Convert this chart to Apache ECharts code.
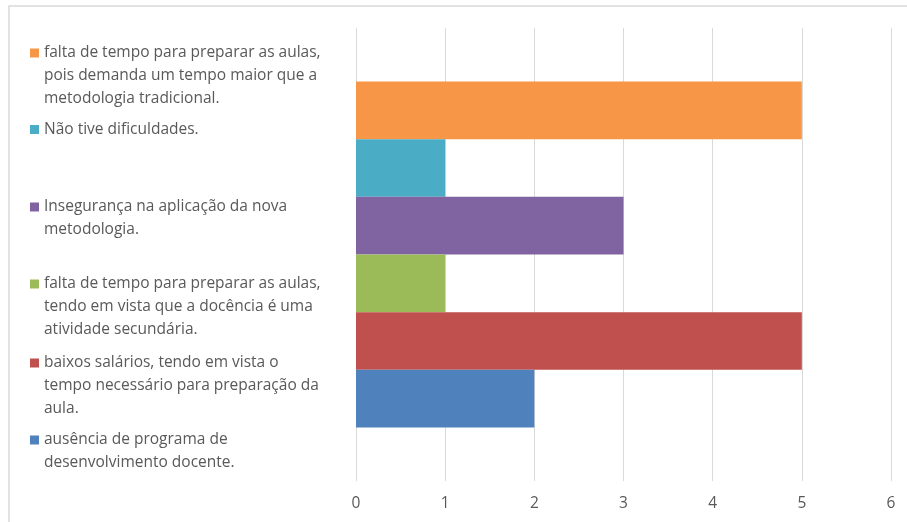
<!DOCTYPE html>
<html>
<head>
<meta charset="utf-8">
<script src="https://cdn.jsdelivr.net/npm/echarts@6/dist/echarts.min.js"></script>
<style>html,body{margin:0;padding:0;background:#fff}#c{width:907px;height:522px}</style>
</head>
<body>
<div id="c"></div>
<script>
// ---- data (top to bottom) ----
const seriesNames = [
  "falta de tempo para preparar as aulas, pois demanda um tempo maior que a metodologia tradicional.",
  "Não tive dificuldades.",
  "Insegurança na aplicação da nova metodologia.",
  "falta de tempo para preparar as aulas, tendo em vista que a docência é uma atividade secundária.",
  "baixos salários, tendo em vista o tempo necessário para preparação da aula.",
  "ausência de programa de desenvolvimento docente."
];
const legendLines = [
  ["falta de tempo para preparar as aulas,", "pois demanda um tempo maior que a", "metodologia tradicional."],
  ["Não tive dificuldades."],
  ["Insegurança na aplicação da nova", "metodologia."],
  ["falta de tempo para preparar as aulas,", "tendo em vista que a docência é uma", "atividade secundária."],
  ["baixos salários, tendo em vista o", "tempo necessário para preparação da", "aula."],
  ["ausência de programa de", "desenvolvimento docente."]
];
const values = [5, 1, 3, 1, 5, 2];
const colors = ["#f79646", "#4bacc6", "#8064a2", "#9bbb59", "#c0504d", "#4f81bd"];
const xTicks = [0, 1, 2, 3, 4, 5, 6];
const categories = [""];

// legend marker centre positions (layout)
const legendCenters = [51.5, 128, 205.5, 282.5, 361.5, 438.5];

const LH = 23;
const FONT = "Open Sans";
const FS = 15.5;

const legends = seriesNames.map((name, i) => {
  const n = legendLines[i].length;
  return {
    show: true,
    data: [name],
    left: 30,
    top: legendCenters[i] - 10 - 23 * (n - 1),
    padding: 0,
    orient: 'vertical',
    icon: 'rect',
    itemWidth: 9,
    itemHeight: 9,
    selectedMode: false,
    formatter: () => "\n".repeat(n - 1) + legendLines[i].join("\n"),
    textStyle: {
      color: "#595959",
      fontFamily: FONT,
      fontSize: FS,
      lineHeight: LH
    }
  };
});

const chart = echarts.init(document.getElementById('c'), null, {renderer: 'canvas'});
chart.setOption({
  animation: false,
  backgroundColor: "#ffffff",
  textStyle: {fontFamily: FONT},
  graphic: [{
    type: 'rect', silent: true, z: -10,
    shape: {x: 9, y: 6, width: 2000, height: 2000},
    style: {fill: 'none', stroke: '#d9d9d9', lineWidth: 1.5}
  }],
  legend: legends,
  grid: {left: 356, right: 16, top: 28, bottom: 41, containLabel: false},
  xAxis: {
    type: 'value', min: xTicks[0], max: xTicks[xTicks.length - 1], interval: 1,
    axisLine: {show: false}, axisTick: {show: false},
    axisLabel: {color: "#595959", fontSize: FS, fontFamily: FONT, margin: 15},
    splitLine: {show: true, lineStyle: {color: "#d9d9d9", width: 1}}
  },
  yAxis: {
    type: 'category', data: categories,
    axisLine: {show: false}, axisTick: {show: false}, axisLabel: {show: false},
    splitLine: {show: false}
  },
  series: seriesNames.map((name, i) => ({
    type: 'bar', name: name, data: [values[i]],
    itemStyle: {color: colors[i]},
    barGap: '0%', barCategoryGap: '23.6%'
  }))
});
</script>
</body>
</html>
